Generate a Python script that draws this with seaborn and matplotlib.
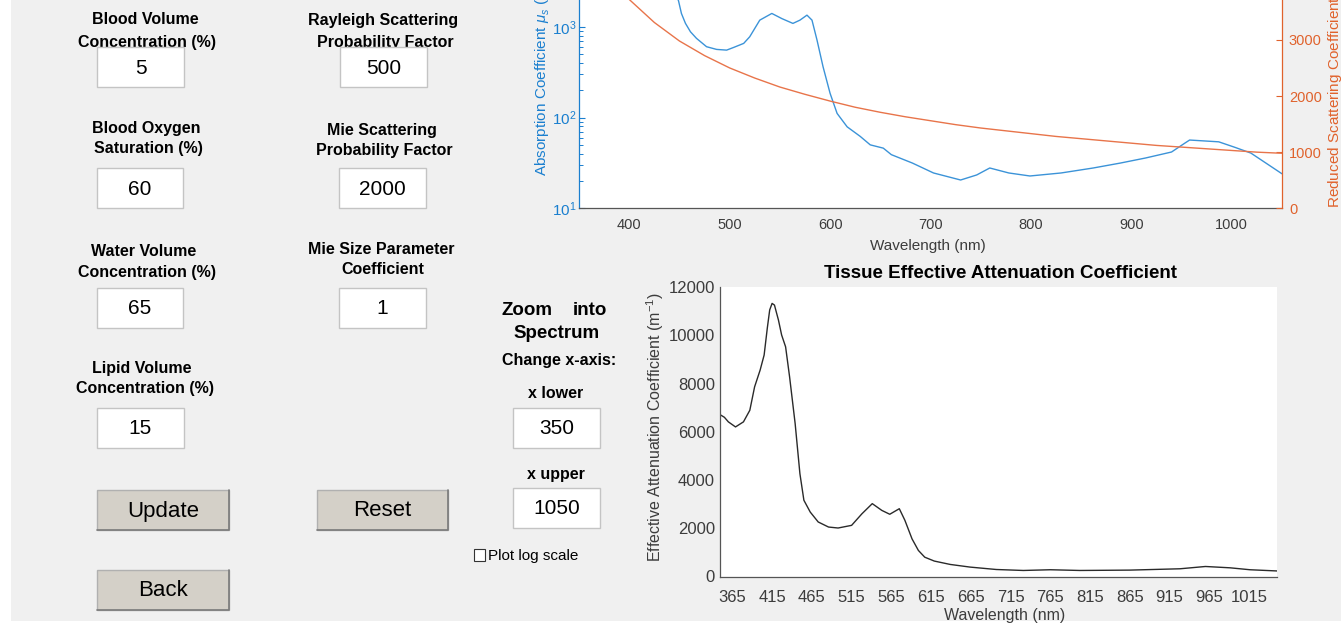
import numpy as np
import seaborn as sns
import matplotlib.pyplot as plt
from matplotlib.patches import Rectangle
from matplotlib.lines import Line2D

# absorption coefficient (left, log axis)
abs_wl = [350, 375, 400, 415, 430, 440, 449, 452, 456, 461, 467, 477, 487, 497,
          504, 514, 520, 530, 542, 552, 563, 570, 577, 582, 587, 593, 600, 607,
          617, 630, 640, 653, 661, 682, 703, 730, 746, 759, 778, 799, 830, 862,
          889, 914, 940, 953, 958, 987, 1003, 1019, 1050]
abs_val = [2400, 2300, 3500, 5000, 4000, 2900, 1950, 1400, 1090, 880, 745, 603,
           563, 553, 592, 656, 776, 1183, 1402, 1230, 1089, 1183, 1343, 1183, 713,
           363, 185, 111, 79, 62, 50, 46, 39, 31.5, 24.5, 20.5, 23.3, 27.8, 24.5,
           22.7, 24.5, 27.8, 31.5, 35.8, 41.7, 52, 56.5, 54, 47, 40.6, 24]

# reduced scattering coefficient (right axis)
sca_wl = np.arange(350, 1051, 25)
sca_val = [4940, 4250, 3720, 3310, 2980, 2720, 2500, 2320, 2160, 2030, 1910, 1800,
           1710, 1630, 1560, 1490, 1430, 1380, 1330, 1280, 1240, 1200, 1160, 1120,
           1090, 1060, 1030, 1000, 980]

# effective attenuation coefficient (bottom plot)
eff_wl = [350, 355, 360, 369, 379, 387, 393, 400, 405, 409, 412, 415, 418, 420,
          423, 427, 432, 437, 444, 450, 455, 463, 473, 486, 498, 515, 528, 541,
          553, 563, 575, 582, 591, 599, 607, 619, 639, 664, 697, 731, 765, 802,
          865, 928, 960, 991, 1016, 1050]
eff_val = [6700, 6600, 6410, 6200, 6410, 6890, 7860, 8560, 9180, 10300, 11050,
           11320, 11250, 11000, 10630, 10010, 9520, 8280, 6340, 4260, 3160, 2670,
           2260, 2050, 2010, 2120, 2600, 3020, 2740, 2580, 2810, 2330, 1560, 1080,
           800, 640, 500, 390, 290, 250, 280, 250, 265, 320, 415, 360, 280, 230]

top_xticks = [400, 500, 600, 700, 800, 900, 1000]
right_yticks = [0, 1000, 2000, 3000, 4000]
bot_xticks = list(range(365, 1016, 50))
bot_yticks = [0, 2000, 4000, 6000, 8000, 10000, 12000]

# GUI fields: (label lines, label centres, value, box)
fields = [
    (["Blood Volume", "Concentration (%)"], (145, 20, 147, 42), "5", (97, 47, 184, 87)),
    (["Rayleigh Scattering", "Probability Factor"], (383, 21, 385, 42), "500", (340, 47, 427, 87)),
    (["Blood Oxygen", "Saturation (%)"], (146, 128, 148, 148), "60", (97, 168, 183, 208)),
    (["Mie Scattering", "Probability Factor"], (382, 130, 384, 150), "2000", (339, 168, 426, 208)),
    (["Water Volume", "Concentration (%)"], (144, 251, 147, 273), "65", (97, 288, 183, 328)),
    (["Mie Size Parameter", "Coefficient"], (381, 250, 383, 270), "1", (339, 288, 426, 328)),
    (["Lipid Volume", "Concentration (%)"], (142, 369, 145, 389), "15", (97, 408, 184, 448)),
]

BLUE = "#1a7fcf"
ORANGE = "#e0622c"
GREY = "#3c3c3c"

W, H = 1341, 623


def px_rect(x0, y0, x1, y1):
    return [x0 / W, 1 - y1 / H, (x1 - x0) / W, (y1 - y0) / H]


sns.set_style("white")
plt.rcParams["font.family"] = ["Liberation Sans", "DejaVu Sans"]
plt.rcParams["mathtext.fontset"] = "custom"
plt.rcParams["mathtext.rm"] = "Liberation Sans"
plt.rcParams["mathtext.it"] = "Liberation Sans:italic"
plt.rcParams["mathtext.bf"] = "Liberation Sans:bold"

fig = plt.figure(figsize=(W / 100, H / 100), dpi=100, facecolor="white")
fig.add_artist(Rectangle((11 / W, 1 - 621 / H), 1 - 11 / W, 621 / H,
                         transform=fig.transFigure, facecolor="#f0f0f0",
                         edgecolor="none", zorder=-5))


def text(x, y, s, size=11.5, weight="bold", ha="center", z=3, color="black"):
    fig.text(x / W, 1 - y / H, s, ha=ha, va="center", fontsize=size,
             fontweight=weight, zorder=z, color=color)


def box(x0, y0, x1, y1, value):
    r = px_rect(x0, y0, x1, y1)
    fig.add_artist(Rectangle((r[0], r[1]), r[2], r[3], transform=fig.transFigure,
                             facecolor="white", edgecolor="#c4c4c4", lw=1, zorder=5))
    text((x0 + x1) / 2, (y0 + y1) / 2 + 1, value, size=15, weight="normal", z=6)


def button(x0, y0, x1, y1, s):
    r = px_rect(x0, y0, x1, y1)
    fig.add_artist(Rectangle((r[0], r[1]), r[2], r[3], transform=fig.transFigure,
                             facecolor="#d4d0c8", edgecolor="#b0b0b0", lw=1, zorder=5))
    fig.add_artist(Line2D([x0 / W, x1 / W, x1 / W], [1 - y1 / H, 1 - y1 / H, 1 - y0 / H],
                          transform=fig.transFigure, color="#7a7a7a", lw=1.2, zorder=5))
    text((x0 + x1) / 2, (y0 + y1) / 2 + 1, s, size=16, weight="normal", z=6)


for lines, pos, value, bx in fields:
    text(pos[0], pos[1], lines[0])
    text(pos[2], pos[3], lines[1])
    box(*bx, value)

button(97, 490, 229, 530, "Update")
button(317, 490, 448, 530, "Reset")
button(97, 570, 229, 610, "Back")

text(502, 310, "Zoom", size=13.5, ha="left")
text(607, 310, "into", size=13.5, ha="right")
text(557, 333, "Spectrum", size=13.5)
text(559, 360, "Change x-axis:")
text(556, 394, "x lower")
box(513, 408, 600, 448, "350")
text(556, 474, "x upper")
box(513, 488, 600, 528, "1050")
r = px_rect(474, 549, 485, 561)
fig.add_artist(Rectangle((r[0], r[1]), r[2], r[3], transform=fig.transFigure,
                         facecolor="white", edgecolor="#333333", lw=0.8, zorder=5))
text(488, 556, "Plot log scale", size=11, weight="normal", ha="left")

# top plot: absorption (log) + reduced scattering (linear) on twin axes
ax = fig.add_axes(px_rect(579, -64, 1282, 208.3))
ax.set_facecolor("white")
sns.lineplot(x=abs_wl, y=abs_val, ax=ax, color="#3b93d8", linewidth=1.0)
ax.set_yscale("log")
ax.set_xlim(350, 1050)
ax.set_ylim(10, 1e4)
ax.set_xticks(top_xticks)
ax.tick_params(axis="x", direction="in", length=7, width=0.8, colors=GREY,
               labelsize=10.5, pad=7)
ax.tick_params(axis="y", which="both", direction="in", colors=BLUE, labelsize=11, pad=2)
ax.tick_params(axis="y", which="major", length=4.5, width=0.8)
ax.tick_params(axis="y", which="minor", length=2.7, width=0.7, left=True)
ax.spines["top"].set_visible(False)
ax.spines["right"].set_visible(False)
ax.spines["bottom"].set_color("#555555")
ax.spines["left"].set_color(BLUE)
for s in ax.spines.values():
    s.set_linewidth(0.9)
ax.set_xlabel("Wavelength (nm)", fontsize=11, color=GREY)
ax.xaxis.set_label_coords(0.4965, -0.1385)
ax.xaxis.label.set_va("center")
ax.set_ylabel(r"Absorption Coefficient $\mu_s$ (m$^{-1}$)", fontsize=11, color=BLUE)
ax.yaxis.set_label_coords(-0.0525, 0.5)
ax.yaxis.label.set_va("center")

ax2 = ax.twinx()
sns.lineplot(x=sca_wl, y=sca_val, ax=ax2, color="#e8744a", linewidth=1.0)
ax2.set_ylim(0, 4850)
ax2.set_yticks(right_yticks)
ax2.tick_params(axis="y", direction="in", length=4.5, width=0.8, colors=ORANGE,
                labelsize=10.5, pad=5)
for side in ["top", "left", "bottom"]:
    ax2.spines[side].set_visible(False)
ax2.spines["right"].set_color(ORANGE)
ax2.spines["right"].set_linewidth(0.9)
ax2.set_ylabel(r"Reduced Scattering Coefficient $\mu'_s$ (m$^{-1}$)", fontsize=11,
               color=ORANGE)
ax2.yaxis.set_label_coords(1.0754, 0.5)
ax2.yaxis.label.set_va("center")

# bottom plot: effective attenuation coefficient
bx = fig.add_axes(px_rect(720.4, 287, 1277, 576.5))
bx.set_facecolor("white")
sns.lineplot(x=eff_wl, y=eff_val, ax=bx, color="#2a2a2a", linewidth=1.0)
bx.set_xlim(350, 1050)
bx.set_ylim(0, 12000)
bx.set_xticks(bot_xticks)
bx.set_yticks(bot_yticks)
bx.tick_params(axis="x", direction="in", length=5, width=0.8, colors=GREY,
               labelsize=12, pad=10)
bx.tick_params(axis="y", direction="in", length=5, width=0.8, colors=GREY,
               labelsize=12, pad=4)
bx.spines["top"].set_visible(False)
bx.spines["right"].set_visible(False)
for side in ["left", "bottom"]:
    bx.spines[side].set_color("#555555")
    bx.spines[side].set_linewidth(0.9)
bx.set_xlabel("Wavelength (nm)", fontsize=11.5, color=GREY)
bx.xaxis.set_label_coords(0.511, -0.135)
bx.xaxis.label.set_va("center")
bx.set_ylabel(r"Effective Attenuation Coefficient (m$^{-1}$)", fontsize=11.5, color=GREY)
bx.yaxis.set_label_coords(-0.1175, 0.515)
bx.yaxis.label.set_va("center")
text(1000, 273, "Tissue Effective Attenuation Coefficient", size=13.5)

fig.savefig("out.png", dpi=100, facecolor=fig.get_facecolor())
